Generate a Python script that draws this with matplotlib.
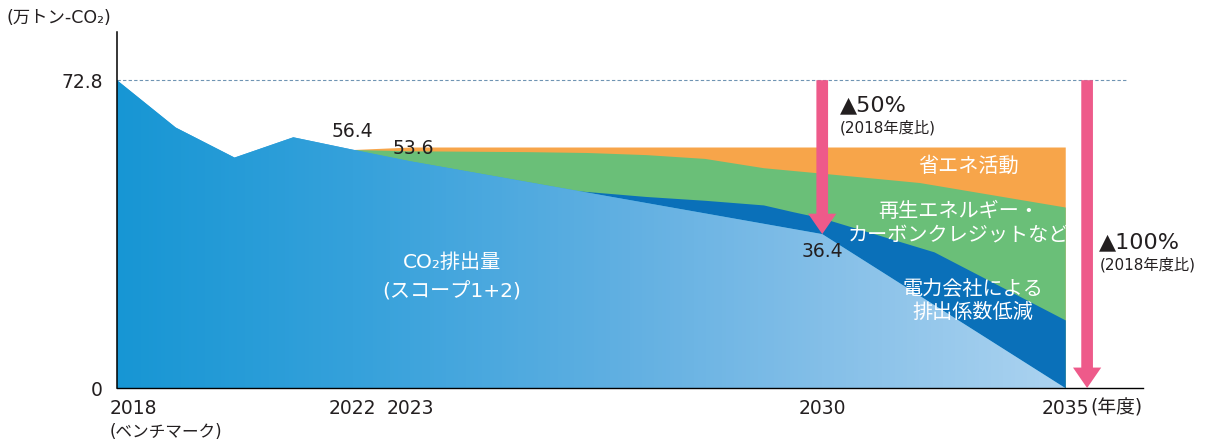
"""
CO2 reduction roadmap: stacked areas towards 2035.
"""

import numpy as np
import matplotlib
matplotlib.use("Agg")
import matplotlib.pyplot as plt
import matplotlib.transforms as mtransforms
from matplotlib.colors import LinearSegmentedColormap

# DejaVu for latin/digits (wide digits like the original), Noto for kana/kanji
plt.rcParams["font.family"] = ["DejaVu Sans", "Noto Sans CJK JP"]

# ---- data (万トン-CO2) -------------------------------------------
emis_years = [2018, 2019, 2020, 2021, 2022, 2023, 2030, 2035]
emis_vals  = [72.8, 61.6, 54.5, 59.3, 56.4, 53.6, 36.4, 0.0]

# top edges of the stacked reduction layers
util_years  = [2025.8, 2027, 2028, 2029, 2029.5, 2030, 2032.3, 2035]   # 電力会社による排出係数低減
util_top    = [46.7, 45.3, 44.4, 43.3, 41.7, 40.2, 32.2, 16.1]
renew_years = [2022, 2023, 2025, 2026, 2027, 2028, 2029, 2030, 2032, 2035]  # 再エネ・クレジット
renew_top   = [56.4, 56.1, 55.9, 55.7, 55.2, 54.3, 52.1, 50.8, 48.6, 42.8]
save_years  = [2022, 2023, 2030, 2035]                                  # 省エネ活動
save_top    = [56.4, 57.0, 57.0, 57.0]

baseline    = 72.8
target_2030 = 36.4
tick_years  = [2018, 2022, 2023, 2030, 2035]
tick_labels = ["2018", "2022", "2023", "2030", "2035"]

# ---- colours -----------------------------------------------------
ORANGE = "#f7a54a"
GREEN  = "#6abf78"
DBLUE  = "#0a70b9"
LBLUE  = "#3aa3dc"
PINK   = "#ee5a8a"
TXT    = "#231f20"
GRAD = LinearSegmentedColormap.from_list(
    "emis", [(0.0, "#1796d4"), (0.23, "#35a1db"), (0.5, "#62b0e2"),
             (0.69, "#84bfe8"), (0.924, "#acd3f0"), (1.0, "#b2d6f1")])

# x axis is compressed after 2030 in the original
R = 0.827


def _fwd(x):
    x = np.asarray(x, dtype=float)
    return np.where(x <= 2030, x - 2018, 12 + (x - 2030) * R)


def _inv(u):
    u = np.asarray(u, dtype=float)
    return np.where(u <= 12, u + 2018, 2030 + (u - 12) / R)


fig = plt.figure(figsize=(12.08, 4.46), dpi=100)
ax = fig.add_axes([117 / 1208, 58 / 446, 1026 / 1208, 356 / 446])
ax.set_xscale("function", functions=(_fwd, _inv))

ax.fill_between(save_years, 0, save_top, color=ORANGE, lw=0, zorder=1.0)
ax.fill_between(renew_years, 0, renew_top, color=GREEN, lw=0, zorder=1.1)
ax.fill_between(util_years, 0, util_top, color=DBLUE, lw=0, zorder=1.2)
emis_poly = ax.fill(emis_years + [2018], emis_vals + [0], color=LBLUE,
                    lw=0, zorder=1.3)[0]
im = ax.imshow(np.linspace(0, 1, 256)[None, :], extent=(0, 1, 0, 1),
               transform=ax.transAxes, cmap=GRAD, aspect="auto", zorder=1.4)
im.set_clip_path(emis_poly)

ax.set_xlim(2018, 2036.6)
ax.set_ylim(0, 84.2)

ax.hlines(baseline, 2018, 2036.3, colors="#6f94b3", lw=0.8,
          linestyles=(0, (3, 2)), zorder=2)

arrow_kw = dict(arrowstyle="simple,head_length=1.05,head_width=1.45,tail_width=0.6",
                fc=PINK, ec="none", shrinkA=0, shrinkB=0, mutation_scale=14)
ax.annotate("", xy=(2030, target_2030), xytext=(2030, baseline),
            arrowprops=arrow_kw, zorder=5)
ax.annotate("", xy=(2035.45, 0), xytext=(2035.45, baseline),
            arrowprops=arrow_kw, zorder=5)

# value labels
ax.text(2022, 60.6, "56.4", ha="center", va="center", fontsize=13.5, color=TXT)
ax.text(2023.05, 56.7, "53.6", ha="center", va="center", fontsize=13.5, color=TXT)
ax.text(2030, 32.2, "36.4", ha="center", va="center", fontsize=13.5, color=TXT)

ax.text(2030.37, 66.8, "▲50%", ha="left", va="center", fontsize=16, color=TXT)
ax.text(2030.37, 61.6, "(2018年度比)", ha="left", va="center", fontsize=11, color=TXT)
ax.text(2035.7, 34.4, "▲100%", ha="left", va="center", fontsize=16, color=TXT)
ax.text(2035.7, 29.1, "(2018年度比)", ha="left", va="center", fontsize=11, color=TXT)

# layer labels
for x, y, s in [(2023.7, 29.8, "CO₂排出量"), (2023.7, 22.7, "(スコープ1+2)"),
                (2033.0, 52.4, "省エネ活動"),
                (2032.8, 41.8, "再生エネルギー・"), (2032.8, 36.2, "カーボンクレジットなど"),
                (2033.1, 23.4, "電力会社による"), (2033.1, 18.0, "排出係数低減")]:
    ax.text(x, y, s, ha="center", va="center", fontsize=14.5, color="white", zorder=4)

# axes
for side in ("top", "right"):
    ax.spines[side].set_visible(False)
ax.spines["left"].set_linewidth(1.1)
ax.spines["bottom"].set_linewidth(1.0)
ax.set_yticks([0, baseline], ["0", "72.8"])
ax.tick_params(axis="y", length=0, pad=10, labelsize=13.5, labelcolor=TXT)
ax.set_xticks(tick_years, tick_labels)
ax.tick_params(axis="x", length=0, pad=8, labelsize=13.5, labelcolor=TXT)
ax.minorticks_off()

shift = mtransforms.ScaledTranslation(-7 / 100, 0, fig.dpi_scale_trans)
lbl0 = ax.get_xticklabels()[0]
lbl0.set_ha("left")
lbl0.set_transform(lbl0.get_transform() + shift)
ax.text(2018, -0.124, "(ベンチマーク)", ha="left", va="center", fontsize=12,
        color=TXT, transform=ax.get_xaxis_transform() + shift)
ax.text(1.0, -0.056, "(年度)", transform=ax.transAxes, ha="right", va="center",
        fontsize=13.5, color=TXT)

fig.text(7 / 1208, 1 - 18 / 446, "(万トン-CO₂)", ha="left", va="center",
         fontsize=12.5, color=TXT)

fig.savefig("out.png", dpi=100)
